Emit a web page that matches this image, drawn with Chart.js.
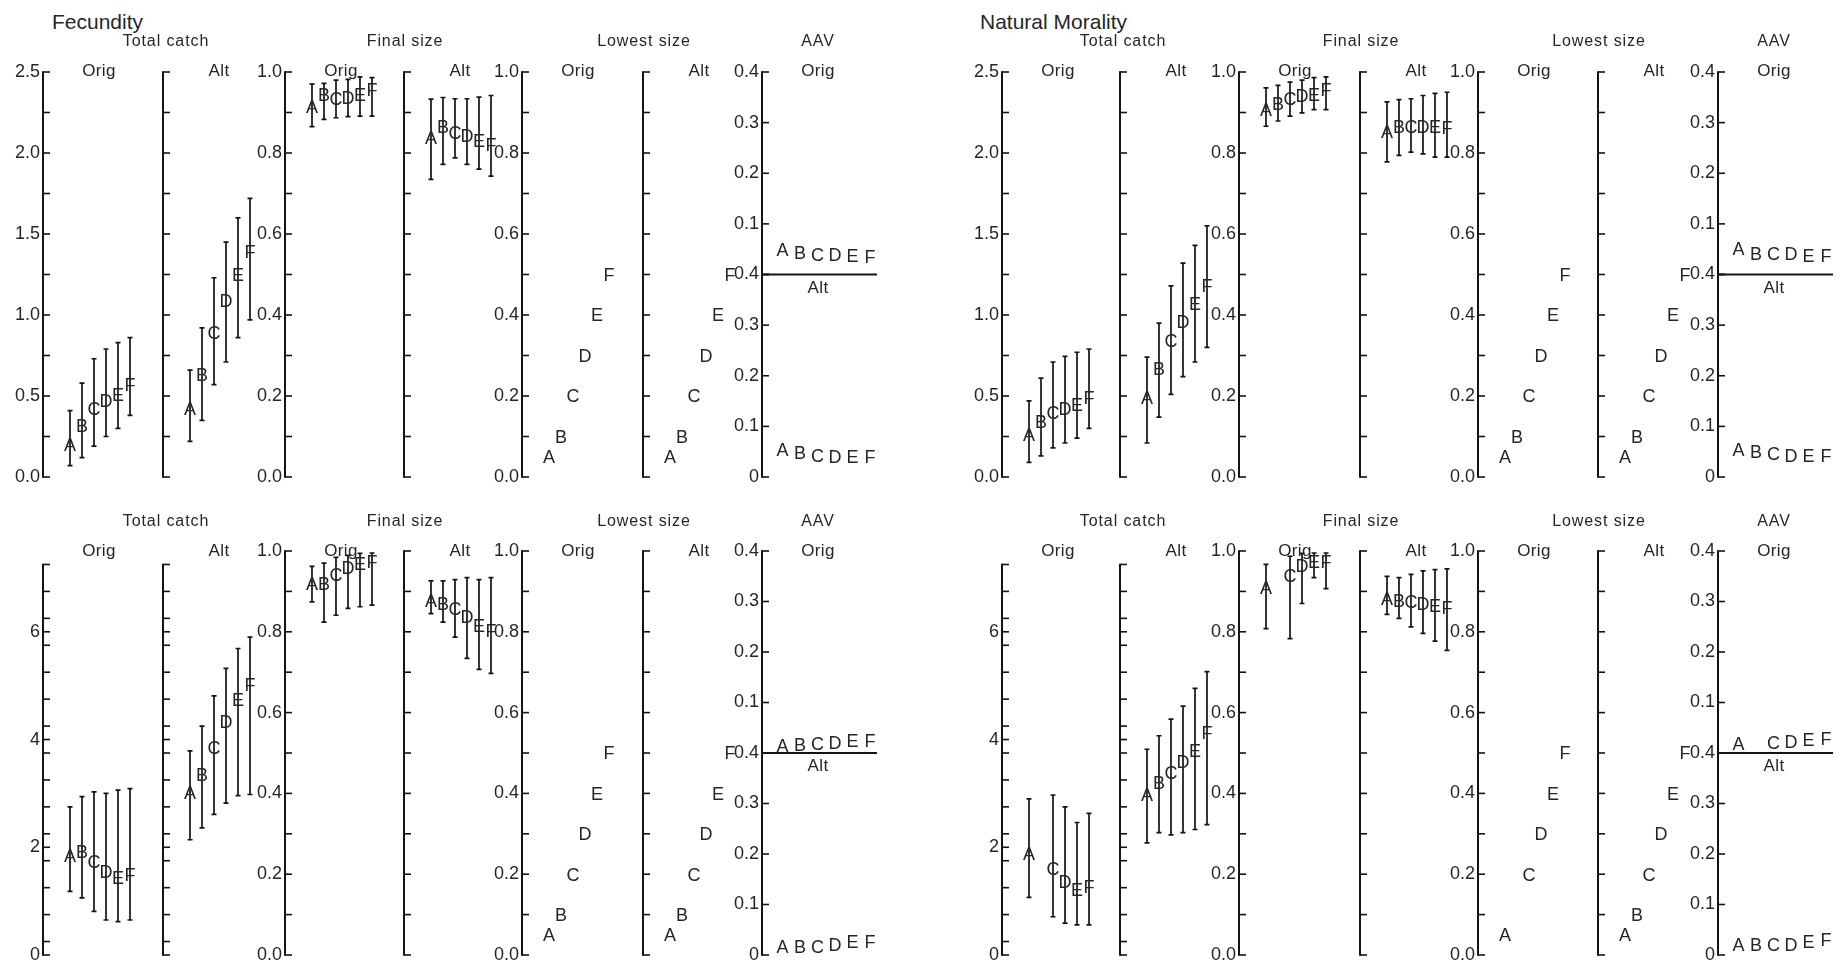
<!DOCTYPE html>
<html>
<head>
<meta charset="utf-8">
<title>Fecundity / Natural Morality</title>
<script src="https://cdn.jsdelivr.net/npm/chart.js@4.4.1/dist/chart.umd.min.js"></script>
<style>
  html, body { margin: 0; padding: 0; background: #fff; overflow: hidden; }
  #board { position: relative; width: 1845px; height: 968px; background: #fff; }
  #board canvas { position: absolute; }
  .lbl { position: absolute; transform: translate(-50%, -50%); white-space: nowrap;
         font-family: "Liberation Sans", Arial, sans-serif; color: #262626; line-height: 1; }
  .main { transform: translate(0, -50%); font-size: 21px; }
  .group { font-size: 16px; letter-spacing: 0.9px; }
  .sub { font-size: 17px; letter-spacing: 0.4px; }
</style>
</head>
<body>
<div id="board"></div>
<script>
// ---- scenario letters -------------------------------------------------
const LETTERS = ['A', 'B', 'C', 'D', 'E', 'F'];

// ---- Fecundity, upper row ---------------------------------------------
const fecCatchOrig   = [0.20, 0.32, 0.42, 0.475, 0.51, 0.57];
const fecCatchOrigLo = [0.07, 0.12, 0.19, 0.25, 0.30, 0.38];
const fecCatchOrigHi = [0.41, 0.58, 0.73, 0.79, 0.83, 0.86];
const fecCatchAlt    = [0.42, 0.63, 0.89, 1.09, 1.25, 1.39];
const fecCatchAltLo  = [0.22, 0.35, 0.57, 0.71, 0.86, 0.97];
const fecCatchAltHi  = [0.66, 0.92, 1.23, 1.45, 1.60, 1.72];
const fecFinalOrig   = [0.916, 0.945, 0.934, 0.937, 0.945, 0.957];
const fecFinalOrigLo = [0.865, 0.883, 0.887, 0.890, 0.891, 0.891];
const fecFinalOrigHi = [0.970, 0.972, 0.980, 0.982, 0.988, 0.986];
const fecFinalAlt    = [0.838, 0.865, 0.850, 0.842, 0.830, 0.821];
const fecFinalAltLo  = [0.735, 0.772, 0.788, 0.772, 0.760, 0.743];
const fecFinalAltHi  = [0.933, 0.937, 0.934, 0.934, 0.938, 0.942];
const fecLowestOrig  = [0.05, 0.1, 0.2, 0.3, 0.4, 0.5];
const fecLowestAlt   = [0.05, 0.1, 0.2, 0.3, 0.4, 0.5];
const fecAavOrig     = [0.050, 0.044, 0.040, 0.039, 0.037, 0.036];
const fecAavAlt      = [0.054, 0.049, 0.043, 0.041, 0.040, 0.040];

// ---- Natural Morality, upper row --------------------------------------
const nmCatchOrig   = [0.26, 0.34, 0.40, 0.42, 0.45, 0.49];
const nmCatchOrigLo = [0.09, 0.13, 0.18, 0.21, 0.24, 0.30];
const nmCatchOrigHi = [0.47, 0.61, 0.71, 0.745, 0.77, 0.79];
const nmCatchAlt    = [0.49, 0.67, 0.84, 0.96, 1.07, 1.18];
const nmCatchAltLo  = [0.21, 0.37, 0.51, 0.62, 0.71, 0.80];
const nmCatchAltHi  = [0.74, 0.95, 1.18, 1.32, 1.43, 1.55];
const nmFinalOrig   = [0.907, 0.923, 0.934, 0.942, 0.945, 0.957];
const nmFinalOrigLo = [0.866, 0.879, 0.891, 0.899, 0.907, 0.907];
const nmFinalOrigHi = [0.961, 0.967, 0.975, 0.980, 0.986, 0.988];
const nmFinalAlt    = [0.852, 0.866, 0.866, 0.866, 0.866, 0.864];
const nmFinalAltLo  = [0.778, 0.794, 0.802, 0.798, 0.790, 0.790];
const nmFinalAltHi  = [0.926, 0.932, 0.934, 0.942, 0.947, 0.950];
const nmLowestOrig  = [0.05, 0.1, 0.2, 0.3, 0.4, 0.5];
const nmLowestAlt   = [0.05, 0.1, 0.2, 0.3, 0.4, 0.5];
const nmAavOrig     = [0.051, 0.041, 0.041, 0.041, 0.038, 0.038];
const nmAavAlt      = [0.054, 0.050, 0.047, 0.043, 0.043, 0.043];

// ---- Fecundity, lower row ---------------------------------------------
const fecBCatchOrig   = [1.84, 1.92, 1.74, 1.55, 1.43, 1.49];
const fecBCatchOrigLo = [1.18, 1.06, 0.81, 0.65, 0.62, 0.65];
const fecBCatchOrigHi = [2.75, 2.94, 3.03, 3.00, 3.06, 3.09];
const fecBCatchAlt    = [3.01, 3.35, 3.85, 4.34, 4.75, 5.03];
const fecBCatchAltLo  = [2.14, 2.36, 2.61, 2.82, 2.96, 2.98];
const fecBCatchAltHi  = [3.79, 4.25, 4.81, 5.32, 5.69, 5.90];
const fecBFinalOrig   = [0.919, 0.919, 0.942, 0.960, 0.969, 0.973];
const fecBFinalOrigLo = [0.874, 0.824, 0.841, 0.858, 0.862, 0.866];
const fecBFinalOrigHi = [0.962, 0.970, 0.984, 0.989, 0.994, 0.995];
const fecBFinalAlt    = [0.878, 0.870, 0.858, 0.837, 0.816, 0.804];
const fecBFinalAltLo  = [0.845, 0.824, 0.787, 0.734, 0.707, 0.697];
const fecBFinalAltHi  = [0.926, 0.926, 0.929, 0.934, 0.929, 0.934];
const fecBLowestOrig  = [0.05, 0.1, 0.2, 0.3, 0.4, 0.5];
const fecBLowestAlt   = [0.05, 0.1, 0.2, 0.3, 0.4, 0.5];
const fecBAavOrig     = [0.014, 0.016, 0.018, 0.021, 0.024, 0.024];
const fecBAavAlt      = [0.016, 0.017, 0.016, 0.020, 0.026, 0.026];

// ---- Natural Morality, lower row (scenario B has no Orig run) --------
const nmBCatchOrig   = [1.89, null, 1.61, 1.37, 1.22, 1.27];
const nmBCatchOrigLo = [1.07, null, 0.71, 0.59, 0.56, 0.56];
const nmBCatchOrigHi = [2.90, null, 2.97, 2.75, 2.46, 2.63];
const nmBCatchAlt    = [2.98, 3.20, 3.38, 3.60, 3.80, 4.13];
const nmBCatchAltLo  = [2.08, 2.27, 2.23, 2.27, 2.33, 2.42];
const nmBCatchAltHi  = [3.82, 4.07, 4.38, 4.62, 4.95, 5.26];
const nmBFinalOrig   = [0.909, null, 0.940, 0.965, 0.973, 0.975];
const nmBFinalOrigLo = [0.808, null, 0.783, 0.870, 0.934, 0.907];
const nmBFinalOrigHi = [0.967, null, 0.987, 0.994, 0.995, 0.995];
const nmBFinalAlt    = [0.882, 0.878, 0.874, 0.870, 0.866, 0.861];
const nmBFinalAltLo  = [0.843, 0.833, 0.812, 0.796, 0.777, 0.754];
const nmBFinalAltHi  = [0.937, 0.934, 0.942, 0.951, 0.954, 0.956];
const nmBLowestOrig  = [0.05, null, 0.2, 0.3, 0.4, 0.5];
const nmBLowestAlt   = [0.05, 0.1, 0.2, 0.3, 0.4, 0.5];
const nmBAavOrig     = [0.018, null, 0.021, 0.022, 0.026, 0.028];
const nmBAavAlt      = [0.020, 0.020, 0.020, 0.020, 0.026, 0.030];

// ---- axis ticks ---------------------------------------------------------
const catchUpperTicks  = [0, 0.5, 1, 1.5, 2, 2.5];
const catchUpperLabels = ['0.0', '0.5', '1.0', '1.5', '2.0', '2.5'];
const catchUpperMarks  = [0, 0.25, 0.5, 0.75, 1, 1.25, 1.5, 1.75, 2, 2.25, 2.5];
const catchLowerTicks  = [0, 2, 4, 6];
const catchLowerLabels = ['0', '2', '4', '6'];
const catchLowerMarks  = [0, 0.25, 0.75, 1.25, 1.75, 2, 2.25, 2.75, 3.25, 3.75, 4,
                          4.25, 4.75, 5.25, 5.75, 6, 6.25, 6.75, 7.25];
const sizeTicks   = [0, 0.2, 0.4, 0.6, 0.8, 1];
const sizeLabels  = ['0.0', '0.2', '0.4', '0.6', '0.8', '1.0'];
const sizeMarks   = [0, 0.1, 0.2, 0.3, 0.4, 0.5, 0.6, 0.7, 0.8, 0.9, 1];
const aavOrigTicks  = [0.1, 0.2, 0.3, 0.4];
const aavOrigLabels = ['0.1', '0.2', '0.3', '0.4'];
const aavAltTicks   = [0, 0.1, 0.2, 0.3, 0.4];
const aavAltLabels  = ['0', '0.1', '0.2', '0.3', '0.4'];
const aavMarks      = [0, 0.1, 0.2, 0.3, 0.4];

// ---- drawing setup -----------------------------------------------------
const FONT = '"Liberation Sans", Arial, sans-serif';
const INK = '#141414';
const TEXT_INK = '#262626';
const TICK_SIZE = 18;
const LETTER_SIZE = 18;
const LABEL_W = 45;      // room for tick labels left of each axis
const PAD = 14;          // vertical room for the end tick labels
const STD_W = 120;       // width of one Orig/Alt plotting strip
const AAV_W = 115;
const STD_X = [-2.25, 7.75];
const AAV_X = [-20.5 / 17.5, 94.5 / 17.5];
const LEFT_AXES  = [43, 163, 285, 404, 522, 643, 762];
const RIGHT_AXES = [1002, 1120, 1239, 1360, 1478, 1598, 1718];
const ROWS = {
  upper: { top: 72,  bottom: 477, groupY: 41,  subY: 70 },
  lower: { top: 551, bottom: 955, groupY: 521, subY: 550 }
};

const board = document.getElementById('board');

function addText(text, x, y, cls) {
  const d = document.createElement('div');
  d.className = 'lbl ' + cls;
  d.textContent = text;
  d.style.left = x + 'px';
  d.style.top = y + 'px';
  board.appendChild(d);
}

// Axis lines with inward tick marks, error bars and scenario letters
function marksPlugin(axes, series, divider) {
  return {
    id: 'panelMarks',
    afterDatasetsDraw(chart) {
      const ctx = chart.ctx;
      const area = chart.chartArea;
      ctx.save();
      ctx.strokeStyle = INK;
      ctx.lineCap = 'butt';

      axes.forEach(a => {
        const s = chart.scales[a.id];
        const lo = Math.min(...a.marks), hi = Math.max(...a.marks);
        const x0 = area.left;
        ctx.lineWidth = 2;
        ctx.beginPath();
        ctx.moveTo(x0, s.getPixelForValue(hi) - 0.75);
        ctx.lineTo(x0, s.getPixelForValue(lo) + 0.75);
        ctx.stroke();
        ctx.lineWidth = 1.6;
        a.marks.forEach(v => {
          const y = s.getPixelForValue(v);
          ctx.beginPath();
          ctx.moveTo(x0, y);
          ctx.lineTo(x0 + 7, y);
          ctx.stroke();
        });
      });

      if (divider) {
        const y = chart.scales[divider.axis].getPixelForValue(divider.value);
        ctx.lineWidth = 1.8;
        ctx.beginPath();
        ctx.moveTo(area.left, y);
        ctx.lineTo(area.right, y);
        ctx.stroke();
      }

      series.forEach((sr, k) => {
        if (!sr.lo) return;
        const meta = chart.getDatasetMeta(k);
        const s = chart.scales[sr.axis];
        ctx.lineWidth = 1.7;
        sr.lo.forEach((lo, j) => {
          if (lo == null || sr.hi[j] == null) return;
          const x = meta.data[j].x;
          const y1 = s.getPixelForValue(sr.hi[j]);
          const y2 = s.getPixelForValue(lo);
          ctx.beginPath();
          ctx.moveTo(x, y1); ctx.lineTo(x, y2);
          ctx.moveTo(x - 2.5, y1); ctx.lineTo(x + 2.5, y1);
          ctx.moveTo(x - 2.5, y2); ctx.lineTo(x + 2.5, y2);
          ctx.stroke();
        });
      });

      ctx.fillStyle = TEXT_INK;
      ctx.font = LETTER_SIZE + 'px ' + FONT;
      ctx.textAlign = 'center';
      ctx.textBaseline = 'alphabetic';
      series.forEach((sr, k) => {
        const meta = chart.getDatasetMeta(k);
        sr.mid.forEach((v, j) => {
          if (v == null) return;
          const el = meta.data[j];
          ctx.fillText(LETTERS[j], el.x, el.y + LETTER_SIZE * 0.36);
        });
      });
      ctx.restore();
    }
  };
}

function addPanel(axisX, row, width, xRange, axes, series, divider) {
  const cv = document.createElement('canvas');
  const w = LABEL_W + width + 10;
  const h = row.bottom - row.top + 2 * PAD;
  cv.width = w; cv.height = h;
  cv.style.width = w + 'px'; cv.style.height = h + 'px';
  cv.style.left = (axisX - LABEL_W) + 'px';
  cv.style.top = (row.top - PAD) + 'px';
  board.appendChild(cv);

  const scales = { x: { type: 'linear', min: xRange[0], max: xRange[1], display: false } };
  axes.forEach(a => {
    scales[a.id] = {
      type: 'linear', position: 'left', min: a.min, max: a.max,
      stack: a.stack, weight: a.weight || 0,
      grid: { display: false, drawTicks: false },
      border: { display: false },
      ticks: {
        display: !!a.text, autoSkip: false, padding: 3, color: TEXT_INK,
        font: { family: FONT, size: TICK_SIZE },
        callback: (v, i) => (a.text ? a.text[i] : '')
      },
      afterBuildTicks: s => { s.ticks = a.values.map(v => ({ value: v })); },
      afterFit: s => { s.width = LABEL_W; }
    };
  });

  new Chart(cv, {
    type: 'scatter',
    data: {
      datasets: series.map(sr => ({
        data: sr.mid.map((v, i) => ({ x: i, y: v })),
        yAxisID: sr.axis,
        pointRadius: 0, pointHoverRadius: 0, showLine: false, clip: false
      }))
    },
    options: {
      responsive: false, animation: false, devicePixelRatio: 1, events: [],
      layout: { padding: { top: PAD, bottom: PAD, left: 0, right: 10 } },
      plugins: { legend: { display: false }, tooltip: { enabled: false }, title: { display: false } },
      scales
    },
    plugins: [marksPlugin(axes, series, divider)]
  });
}

function buildQuadrant(q) {
  const ax = q.axes, row = q.row;
  const catchAxis = (labelled) => ({
    id: 'y', min: 0, max: q.catchMax, values: q.catchTicks,
    text: labelled ? q.catchLabels : null, marks: q.catchMarks
  });
  const sizeAxis = (labelled) => ({
    id: 'y', min: 0, max: 1, values: sizeTicks,
    text: labelled ? sizeLabels : null, marks: sizeMarks
  });

  addPanel(ax[0], row, STD_W, STD_X, [catchAxis(true)],
    [{ axis: 'y', mid: q.catchOrig[0], lo: q.catchOrig[1], hi: q.catchOrig[2] }]);
  addPanel(ax[1], row, STD_W, STD_X, [catchAxis(false)],
    [{ axis: 'y', mid: q.catchAlt[0], lo: q.catchAlt[1], hi: q.catchAlt[2] }]);
  addPanel(ax[2], row, STD_W, STD_X, [sizeAxis(true)],
    [{ axis: 'y', mid: q.finalOrig[0], lo: q.finalOrig[1], hi: q.finalOrig[2] }]);
  addPanel(ax[3], row, STD_W, STD_X, [sizeAxis(false)],
    [{ axis: 'y', mid: q.finalAlt[0], lo: q.finalAlt[1], hi: q.finalAlt[2] }]);
  addPanel(ax[4], row, STD_W, STD_X, [sizeAxis(true)],
    [{ axis: 'y', mid: q.lowestOrig }]);
  addPanel(ax[5], row, STD_W, STD_X, [sizeAxis(false)],
    [{ axis: 'y', mid: q.lowestAlt }]);
  addPanel(ax[6], row, AAV_W, AAV_X, [
      { id: 'yAlt', min: 0, max: 0.4, values: aavAltTicks, text: aavAltLabels, marks: aavMarks, stack: 'aav', weight: 0 },
      { id: 'y', min: 0, max: 0.4, values: aavOrigTicks, text: aavOrigLabels, marks: aavMarks, stack: 'aav', weight: 1 }
    ],
    [{ axis: 'y', mid: q.aavOrig }, { axis: 'yAlt', mid: q.aavAlt }],
    { axis: 'yAlt', value: 0.4 });

  if (q.title) addText(q.title, q.titleX, 21, 'main');
  addText('Total catch', ax[1] + 3, row.groupY, 'group');
  addText('Final size', ax[3] + 1, row.groupY, 'group');
  addText('Lowest size', ax[5] + 1, row.groupY, 'group');
  addText('AAV', ax[6] + 56, row.groupY, 'group');
  ['Orig', 'Alt', 'Orig', 'Alt', 'Orig', 'Alt', 'Orig'].forEach((t, i) => {
    addText(t, ax[i] + 56, row.subY, 'sub');
  });
  addText('Alt', ax[6] + 56, (row.top + row.bottom) / 2 + 12, 'sub');
}

const upperCatch = { catchMax: 2.5, catchTicks: catchUpperTicks, catchLabels: catchUpperLabels, catchMarks: catchUpperMarks };
const lowerCatch = { catchMax: 7.5, catchTicks: catchLowerTicks, catchLabels: catchLowerLabels, catchMarks: catchLowerMarks };

const quadrants = [
  Object.assign({
    title: 'Fecundity', titleX: 52, axes: LEFT_AXES, row: ROWS.upper,
    catchOrig: [fecCatchOrig, fecCatchOrigLo, fecCatchOrigHi],
    catchAlt: [fecCatchAlt, fecCatchAltLo, fecCatchAltHi],
    finalOrig: [fecFinalOrig, fecFinalOrigLo, fecFinalOrigHi],
    finalAlt: [fecFinalAlt, fecFinalAltLo, fecFinalAltHi],
    lowestOrig: fecLowestOrig, lowestAlt: fecLowestAlt,
    aavOrig: fecAavOrig, aavAlt: fecAavAlt
  }, upperCatch),
  Object.assign({
    title: 'Natural Morality', titleX: 980, axes: RIGHT_AXES, row: ROWS.upper,
    catchOrig: [nmCatchOrig, nmCatchOrigLo, nmCatchOrigHi],
    catchAlt: [nmCatchAlt, nmCatchAltLo, nmCatchAltHi],
    finalOrig: [nmFinalOrig, nmFinalOrigLo, nmFinalOrigHi],
    finalAlt: [nmFinalAlt, nmFinalAltLo, nmFinalAltHi],
    lowestOrig: nmLowestOrig, lowestAlt: nmLowestAlt,
    aavOrig: nmAavOrig, aavAlt: nmAavAlt
  }, upperCatch),
  Object.assign({
    title: null, axes: LEFT_AXES, row: ROWS.lower,
    catchOrig: [fecBCatchOrig, fecBCatchOrigLo, fecBCatchOrigHi],
    catchAlt: [fecBCatchAlt, fecBCatchAltLo, fecBCatchAltHi],
    finalOrig: [fecBFinalOrig, fecBFinalOrigLo, fecBFinalOrigHi],
    finalAlt: [fecBFinalAlt, fecBFinalAltLo, fecBFinalAltHi],
    lowestOrig: fecBLowestOrig, lowestAlt: fecBLowestAlt,
    aavOrig: fecBAavOrig, aavAlt: fecBAavAlt
  }, lowerCatch),
  Object.assign({
    title: null, axes: RIGHT_AXES, row: ROWS.lower,
    catchOrig: [nmBCatchOrig, nmBCatchOrigLo, nmBCatchOrigHi],
    catchAlt: [nmBCatchAlt, nmBCatchAltLo, nmBCatchAltHi],
    finalOrig: [nmBFinalOrig, nmBFinalOrigLo, nmBFinalOrigHi],
    finalAlt: [nmBFinalAlt, nmBFinalAltLo, nmBFinalAltHi],
    lowestOrig: nmBLowestOrig, lowestAlt: nmBLowestAlt,
    aavOrig: nmBAavOrig, aavAlt: nmBAavAlt
  }, lowerCatch)
];

quadrants.forEach(buildQuadrant);
</script>
</body>
</html>
